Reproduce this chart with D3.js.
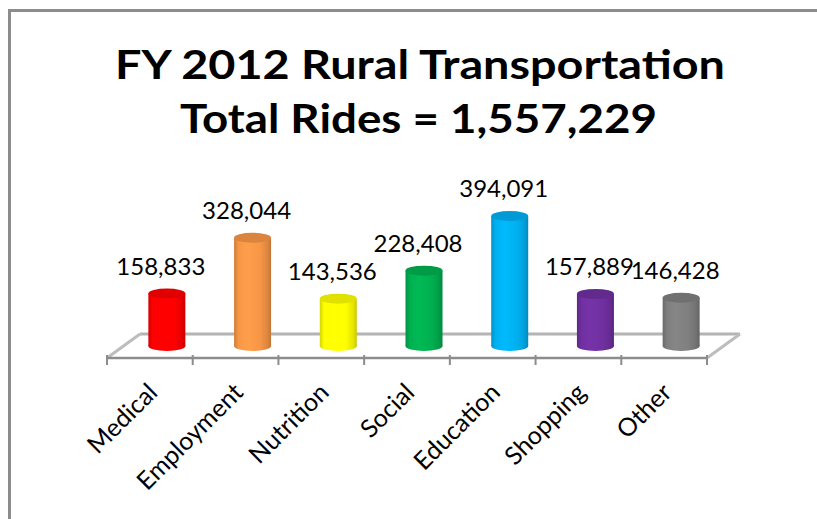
<!DOCTYPE html>
<html><head><meta charset="utf-8">
<script src="https://cdn.jsdelivr.net/npm/d3@7"></script>
<style>body{margin:0;background:#fff}svg{display:block}</style></head>
<body><svg id="c" width="817" height="519"></svg>
<script>
const categories = ["Medical","Employment","Nutrition","Social","Education","Shopping","Other"];
const rides = [158833,328044,143536,228408,394091,157889,146428];
const barColors = ["#FF0000","#F79646","#FFFF00","#00B050","#00B0F0","#7030A0","#7F7F7F"];
const titleLines = ["FY 2012 Rural Transportation","Total Rides = 1,557,229"];

const svg = d3.select("#c");
const fmt = d3.format(",");

// frame
svg.append("rect").attr("x",9.5).attr("y",10.5).attr("width",900).attr("height",600)
  .attr("fill","none").attr("stroke","#8c8c8c").attr("stroke-width",3);

// title
const titleW = [610, 477];
svg.append("g").selectAll("text").data(titleLines).join("text")
  .attr("x",(d,i)=>i?418.5:420).attr("y",(d,i)=>79+i*54)
  .attr("text-anchor","middle")
  .attr("textLength",(d,i)=>titleW[i]).attr("lengthAdjust","spacingAndGlyphs")
  .style("font-family","Lato, 'Open Sans', sans-serif").style("font-weight","bold")
  .style("font-size","41px").attr("fill","#000").text(d=>d);

// scales
const x = d3.scaleBand().domain(categories).range([107,707]).padding(0);
const base = 346;
const y = d3.scaleLinear().domain([0,400000]).range([base, base-132]);
const depthX = 33, frontY = 358, backY = 334, barOffset = 17, barW = 37, ry = 5;

// floor
const floor = svg.append("g");
floor.append("line").attr("x1",x.range()[0]+depthX).attr("x2",x.range()[1]+depthX)
  .attr("y1",backY).attr("y2",backY).attr("stroke","#b4b4b4").attr("stroke-width",3);
[x.range()[0], x.range()[1]].forEach(x0=>{
  floor.append("line").attr("x1",x0).attr("y1",frontY).attr("x2",x0+depthX).attr("y2",backY)
    .attr("stroke","#bdbdbd").attr("stroke-width",3);
});
floor.append("line").attr("x1",x.range()[0]).attr("x2",x.range()[1])
  .attr("y1",frontY).attr("y2",frontY).attr("stroke","#8c8c8c").attr("stroke-width",2.5);
const bounds = categories.map(c=>x(c)).concat([x.range()[1]]);
floor.selectAll(".tk").data(bounds).join("line")
  .attr("x1",d=>d).attr("x2",d=>d).attr("y1",frontY-3).attr("y2",frontY+7)
  .attr("stroke","#8c8c8c").attr("stroke-width",2);

// gradients
const defs = svg.append("defs");
barColors.forEach((col,i)=>{
  const c = d3.color(col);
  const g = defs.append("linearGradient").attr("id","g"+i).attr("x1","0").attr("x2","1").attr("y1","0").attr("y2","0");
  [[0,c.darker(0.5)],[0.12,c],[0.35,c.brighter(0.15)],[0.7,c],[0.9,c.darker(0.3)],[1,c.darker(0.7)]].forEach(([o,cc])=>{
    g.append("stop").attr("offset",o).attr("stop-color",cc.formatHex());
  });
});

const data = categories.map((c,i)=>({c, v:rides[i], col:barColors[i], i}));
const cx = d => x(d.c) + x.bandwidth()/2 + barOffset;
const bars = svg.append("g").selectAll("g").data(data).join("g");
bars.append("ellipse").attr("cx",cx).attr("cy",base).attr("rx",barW/2).attr("ry",ry)
  .attr("fill",d=>`url(#g${d.i})`);
bars.append("rect").attr("x",d=>cx(d)-barW/2).attr("width",barW)
  .attr("y",d=>y(d.v)).attr("height",d=>base-y(d.v)).attr("fill",d=>`url(#g${d.i})`);
bars.append("ellipse").attr("cx",cx).attr("cy",d=>y(d.v)).attr("rx",barW/2).attr("ry",ry)
  .attr("fill",d=>d3.color(d.col).darker(0.35).formatHex());

// value labels
svg.append("g").selectAll("text").data(data).join("text")
  .attr("x",d=>cx(d)-6).attr("y",d=>y(d.v)-19).attr("text-anchor","middle")
  .style("font-family","Lato, 'Open Sans', sans-serif").style("font-size","24px")
  .attr("fill","#000").text(d=>fmt(d.v));

// category labels
svg.append("g").selectAll("text").data(categories).join("text")
  .attr("transform",d=>`translate(${x(d)+x.bandwidth()/2+9},394) rotate(-45)`)
  .attr("text-anchor","end")
  .style("font-family","Lato, 'Open Sans', sans-serif").style("font-size","25px")
  .attr("fill","#000").text(d=>d);
</script></body></html>
